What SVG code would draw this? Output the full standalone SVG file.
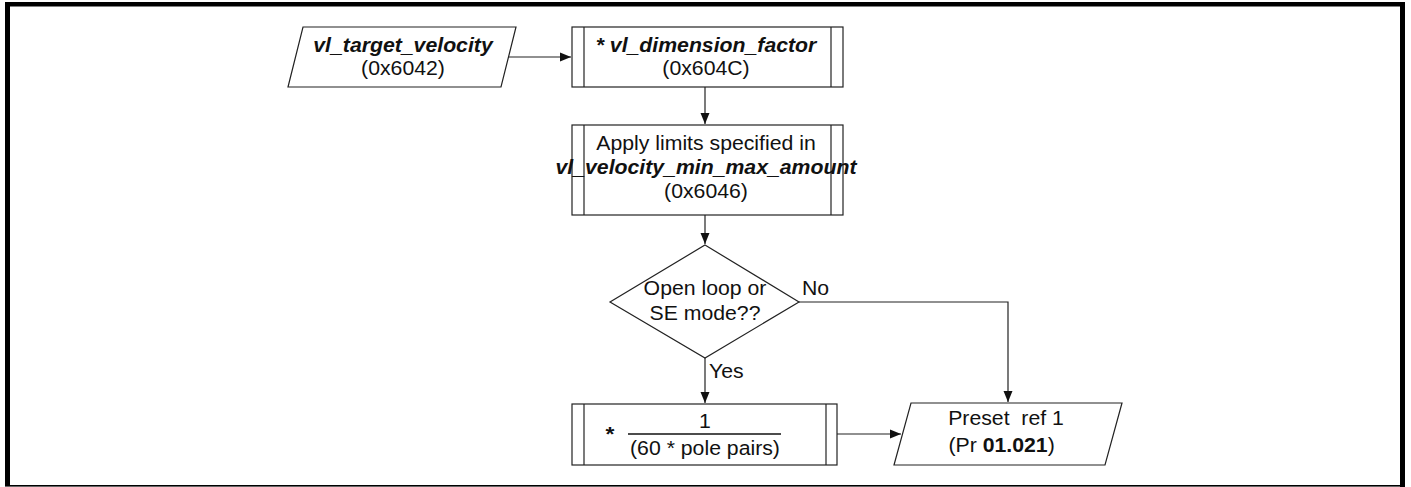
<svg xmlns="http://www.w3.org/2000/svg" width="1411" height="487" viewBox="0 0 1411 487">
<style>
.sh{fill:#fff;stroke:#222;stroke-width:1.2}
.ln{fill:none;stroke:#222;stroke-width:1.2}
.t{font-family:"Liberation Sans",Arial,sans-serif;font-size:19.5px;fill:#111;text-anchor:middle}
.b{font-weight:bold;font-style:italic}
.bd{font-weight:bold}
</style>
<defs>
<marker id="ah" markerUnits="userSpaceOnUse" markerWidth="12" markerHeight="10" refX="11" refY="5" orient="auto">
<path d="M0,0.5 L11,5 L0,9.5 Z" fill="#111"/>
</marker>
</defs>
<g id="frame">
<rect x="5" y="2" width="1400" height="4.5" fill="#000"/>
<rect x="5" y="2" width="5" height="484" fill="#000"/>
<rect x="1400" y="2" width="5" height="485" fill="#000"/>
<rect x="5" y="485" width="1400" height="1.6" fill="#000"/>
</g>
<g id="connectors">
<line class="ln" x1="508" y1="57" x2="571" y2="57" marker-end="url(#ah)"/>
<line class="ln" x1="705" y1="87" x2="705" y2="124" marker-end="url(#ah)"/>
<line class="ln" x1="705" y1="215" x2="705" y2="244" marker-end="url(#ah)"/>
<line class="ln" x1="705" y1="358" x2="705" y2="403" marker-end="url(#ah)"/>
<polyline class="ln" points="799,302 1008,302 1008,402" marker-end="url(#ah)"/>
<line class="ln" x1="837" y1="434" x2="901" y2="434" marker-end="url(#ah)"/>
<g transform="translate(802 0) scale(1.09 1)"><text class="t" x="0" y="295" style="text-anchor:start">No</text></g>
<g transform="translate(709 0) scale(1.09 1)"><text class="t" x="0" y="378" style="text-anchor:start">Yes</text></g>
</g>
<g id="target">
<polygon class="sh" points="303,27 516,27 501,87 288,87"/>
<g transform="translate(403 0) scale(1.09 1)">
<text class="t b" x="0" y="52">vl_target_velocity</text>
<text class="t" x="0" y="75">(0x6042)</text>
</g>
</g>
<g id="dimension">
<rect class="sh" x="572" y="27" width="271" height="60"/>
<line class="ln" x1="584" y1="27" x2="584" y2="87"/>
<line class="ln" x1="831" y1="27" x2="831" y2="87"/>
<g transform="translate(706 0) scale(1.09 1)">
<text class="t b" x="0" y="52">* vl_dimension_factor</text>
<text class="t" x="0" y="75">(0x604C)</text>
</g>
</g>
<g id="limits">
<rect class="sh" x="572" y="125" width="271" height="90"/>
<line class="ln" x1="584" y1="125" x2="584" y2="215"/>
<line class="ln" x1="831" y1="125" x2="831" y2="215"/>
<g transform="translate(706 0) scale(1.09 1)">
<text class="t" x="0" y="150">Apply limits specified in</text>
<text class="t b" x="0" y="174">vl_velocity_min_max_amount</text>
<text class="t" x="0" y="198">(0x6046)</text>
</g>
</g>
<g id="decision">
<polygon class="sh" points="705,245 799,302 705,358 610,302"/>
<g transform="translate(705 0) scale(1.09 1)">
<text class="t" x="0" y="295">Open loop or</text>
<text class="t" x="0" y="320">SE mode??</text>
</g>
</g>
<g id="scale">
<rect class="sh" x="572" y="404" width="265" height="61"/>
<line class="ln" x1="584" y1="404" x2="584" y2="465"/>
<line class="ln" x1="826" y1="404" x2="826" y2="465"/>
<line x1="628" y1="434" x2="781" y2="434" stroke="#111" stroke-width="1.6"/>
<g transform="translate(610 0) scale(1.09 1)"><text class="t bd" x="0" y="441" style="font-size:21px">*</text></g>
<g transform="translate(705 0) scale(1.09 1)">
<text class="t" x="0" y="428">1</text>
<text class="t" x="0" y="455">(60 * pole pairs)</text>
</g>
</g>
<g id="preset">
<polygon class="sh" points="911,403 1122,403 1105,465 894,465"/>
<g transform="translate(1006 0) scale(1.09 1)">
<text class="t" x="0" y="425" xml:space="preserve">Preset  ref 1</text>
<text class="t" x="-4" y="452">(Pr <tspan class="bd">01.021</tspan>)</text>
</g>
</g>
</svg>
